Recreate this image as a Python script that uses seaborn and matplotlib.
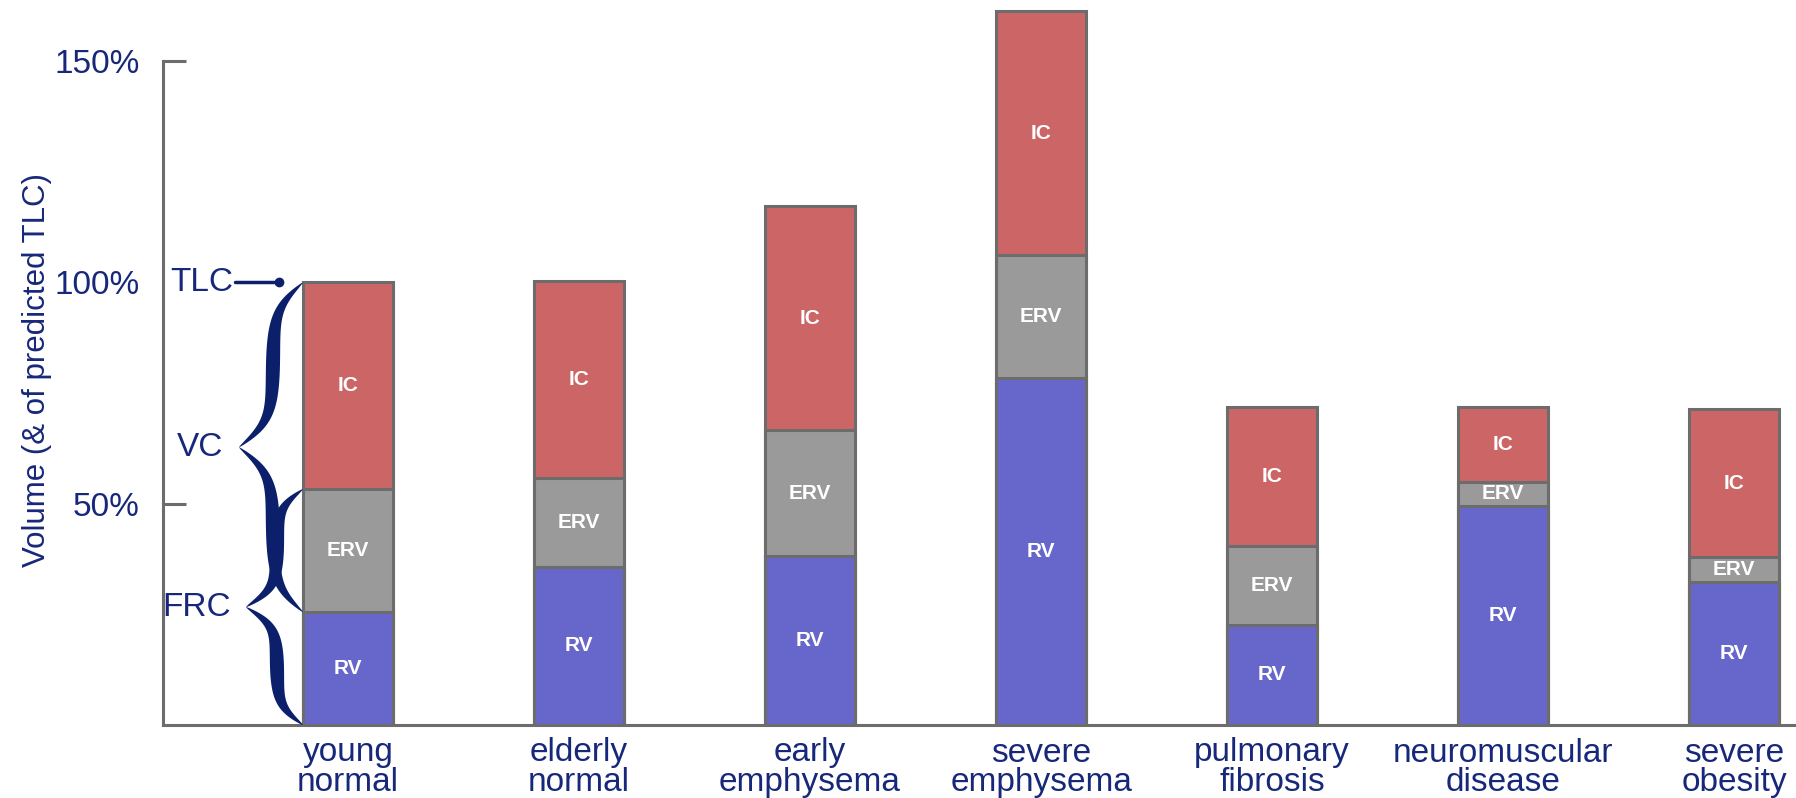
import numpy as np
import pandas as pd
import matplotlib
matplotlib.use("Agg")
import matplotlib.pyplot as plt
import seaborn as sns
from matplotlib.patches import Polygon

sns.set_theme(style="white")
plt.rcParams['font.family'] = ['Liberation Sans Narrow', 'Liberation Sans', 'DejaVu Sans']

# lung volumes, % of predicted TLC
categories = ["young\nnormal", "elderly\nnormal", "early\nemphysema", "severe\nemphysema",
              "pulmonary\nfibrosis", "neuromuscular\ndisease", "severe\nobesity"]
rv = [25.5, 35.7, 38.2, 78.4, 22.6, 49.5, 32.3]
erv = [27.8, 20.1, 28.4, 27.8, 17.8, 5.4, 5.6]
ic = [46.7, 44.5, 50.7, 55.1, 31.4, 16.9, 33.5]
y_ticks = [50, 100, 150]
y_tick_labels = ["50%", "100%", "150%"]

NAVY = "#17287a"
BRACE = "#0c1f6a"
EDGE = "#6c6c6c"
colors = {"RV": "#6767cb", "ERV": "#9a9a9a", "IC": "#cb6566"}

df = pd.DataFrame({"condition": categories, "RV": rv, "ERV": erv, "IC": ic})
df["FRC"] = df["RV"] + df["ERV"]
df["TLC"] = df["FRC"] + df["IC"]

fig = plt.figure(figsize=(17.96, 7.98), dpi=100)
ax = fig.add_axes([163 / 1796, 73 / 798, 1 - 163 / 1796, 725 / 798])

bar_w = 0.39
# stacked look: draw cumulative totals, biggest first
for col, fill in [("TLC", colors["IC"]), ("FRC", colors["ERV"]), ("RV", colors["RV"])]:
    sns.barplot(data=df, x="condition", y=col, order=categories, color=fill,
                width=bar_w, edgecolor=EDGE, linewidth=2.2, saturation=1,
                errorbar=None, ax=ax)

ax.set_xlim(-0.801, 6.268)
ax.set_ylim(0, 163.8)

# segment labels
lab_kw = dict(ha="center", va="center", color="white", fontsize=15, fontweight="bold", zorder=6)
for i in range(len(categories)):
    ax.text(i, df.RV[i] / 2, "RV", **lab_kw)
    ax.text(i, df.RV[i] + df.ERV[i] / 2, "ERV", **lab_kw)
    ax.text(i, df.FRC[i] + df.IC[i] / 2, "IC", **lab_kw)

# axes styling
sns.despine(ax=ax)
ax.spines['left'].set_bounds(0, 150)
for s in ['left', 'bottom']:
    ax.spines[s].set_color(EDGE)
    ax.spines[s].set_linewidth(2.2)

ax.set_yticks(y_ticks, y_tick_labels)
ax.tick_params(axis='y', left=True, direction='in', length=16.5, width=2.2, color=EDGE,
               pad=17, labelsize=24, labelcolor=NAVY)
ax.yaxis.get_major_ticks()[1].tick1line.set_visible(False)
ax.tick_params(axis='x', bottom=False, length=0, pad=9, labelsize=24, labelcolor=NAVY)
for lbl in ax.get_xticklabels():
    lbl.set_linespacing(0.95)

ax.set_xlabel("")
ax.set_ylabel("Volume (& of predicted TLC)", fontsize=22.5, color=NAVY)
ax.yaxis.set_label_coords(-0.068, 0.49)

# ---- brace annotations on the first bar ----
px = (ax.get_xlim()[1] - ax.get_xlim()[0]) / 1633.0   # data units per pixel (x)
edge_x = 0 - bar_w / 2


def draw_brace(ax, x_end, y_lo, y_hi, depth, tip, thick, k=6.0):
    (xe, yl), (_, yh) = ax.transData.transform([(x_end, y_lo), (x_end, y_hi)])
    ym = (yl + yh) / 2
    s = np.linspace(0, 1, 200)
    sig1 = np.tanh(k * s) / np.tanh(k)
    sig2 = 1 - np.tanh(k * (1 - s)) / np.tanh(k)
    xs = xe - depth * sig1 - tip * sig2
    w = thick * np.sin(np.pi * s) ** 0.7
    up_y = yh + (ym - yh) * s
    lo_y = yl + (ym - yl) * s
    cx = np.concatenate([xs, xs[::-1][1:]])
    cy = np.concatenate([up_y, lo_y[::-1][1:]])
    cw = np.concatenate([w, w[::-1][1:]])
    dx, dy = np.gradient(cx), np.gradient(cy)
    n = np.hypot(dx, dy)
    nx, ny = -dy / n, dx / n
    left = np.column_stack([cx + nx * cw / 2, cy + ny * cw / 2])
    right = np.column_stack([cx - nx * cw / 2, cy - ny * cw / 2])
    pts = ax.transData.inverted().transform(np.vstack([left, right[::-1]]))
    ax.add_patch(Polygon(pts, closed=True, facecolor=BRACE, edgecolor='none',
                         clip_on=False, zorder=5))


draw_brace(ax, edge_x, df.RV[0], df.TLC[0], depth=30, tip=34, thick=14)
draw_brace(ax, edge_x, 0, df.FRC[0], depth=26, tip=31, thick=14)

ann_kw = dict(ha="right", va="center", color=NAVY, fontsize=24)
ax.text(edge_x - 70 * px, df.TLC[0], "TLC", **ann_kw)
ax.plot([edge_x - 68 * px, edge_x - 24 * px], [df.TLC[0]] * 2, color=BRACE, lw=2.5,
        clip_on=False, zorder=5)
ax.plot(edge_x - 24 * px, df.TLC[0], "o", color=BRACE, ms=6, clip_on=False, zorder=5)
ax.text(edge_x - 80 * px, (df.RV[0] + df.TLC[0]) / 2, "VC", **ann_kw)
ax.text(edge_x - 72 * px, df.FRC[0] / 2, "FRC", **ann_kw)

fig.savefig("out.png", dpi=100)
